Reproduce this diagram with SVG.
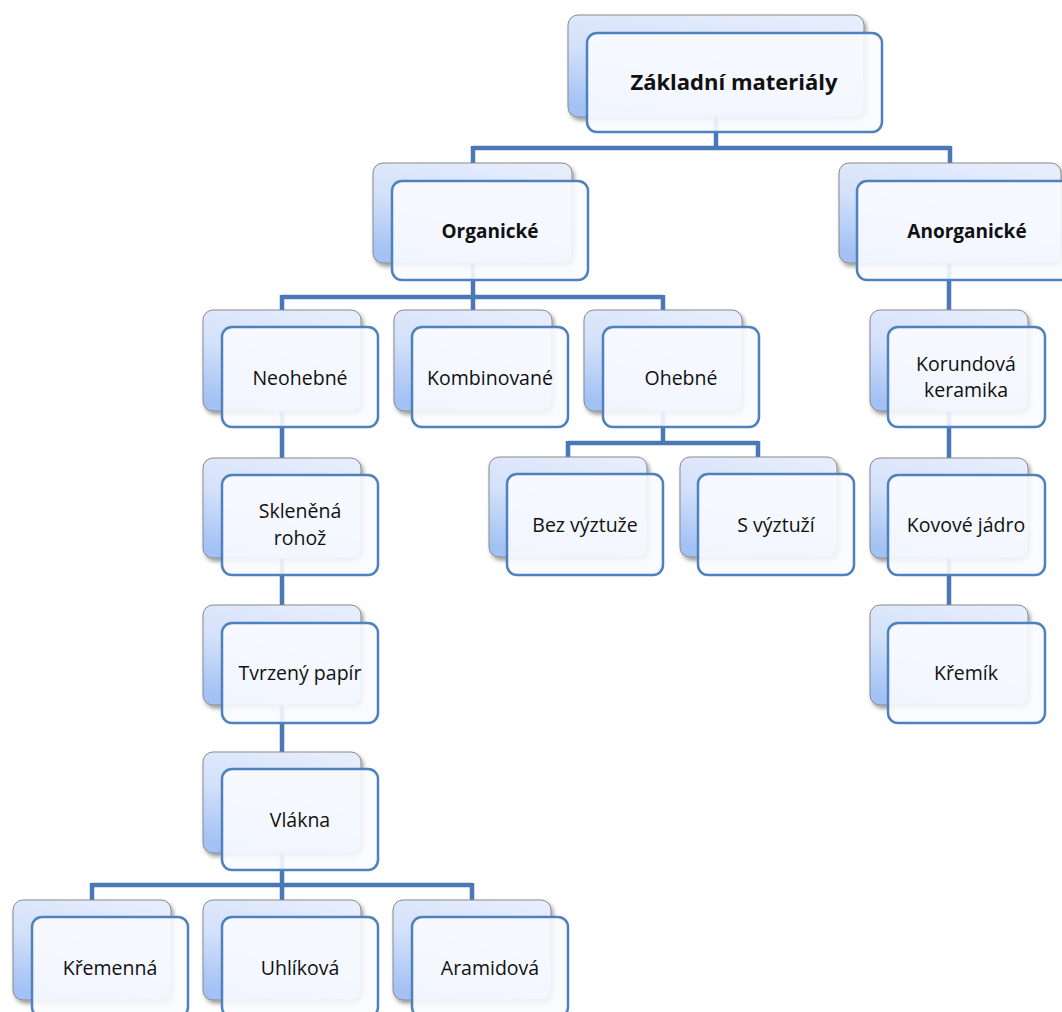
<svg xmlns="http://www.w3.org/2000/svg" width="1062" height="1012" viewBox="0 0 1062 1012">
<defs>
<linearGradient id="bg" x1="0.7" y1="0" x2="0.3" y2="1">
<stop offset="0" stop-color="#e6edfc"/>
<stop offset="0.5" stop-color="#d3e1fa"/>
<stop offset="1" stop-color="#a3c1f4"/>
</linearGradient>
<filter id="sh" x="-10%" y="-10%" width="125%" height="130%">
<feDropShadow dx="2" dy="3" stdDeviation="2" flood-color="#000" flood-opacity="0.4"/>
</filter>
</defs>
<style>
.bk{fill:url(#bg);stroke:#8a8a8a;stroke-width:1;filter:url(#sh)}
.fr{fill:#fafbff;fill-opacity:0.9;stroke:#4f81bd;stroke-width:2.5}
.c{fill:none;stroke:#4a78b4;stroke-width:4.5}
text{font-family:"Open Sans","Liberation Sans",sans-serif;font-size:19.5px;fill:#111;text-anchor:middle}
.b{font-weight:bold;font-size:19px}
</style>
<rect width="1062" height="1012" fill="#fff"/>
<g id="connectors">
<path class="c" d="M716 117V148M473 148H950M473 146V163M950 146V163"/>
<path class="c" d="M473 263V297M282 297H663M282 295V310M473 295V310M663 295V310"/>
<path class="c" d="M282 411V752"/>
<path class="c" d="M282 853V885M92 885H472M92 883V900M282 883V900M472 883V900"/>
<path class="c" d="M663 411V443M568 443H758M568 441V457M758 441V457"/>
<path class="c" d="M949 263V605"/>
</g>
<g id="n-zakladni"><rect class="bk" x="568" y="15" width="296" height="102" rx="10"/><rect class="fr" x="587" y="33" width="295" height="99" rx="10"/><text class="b" x="734" y="90" style="font-size:22px">Základní materiály</text></g>
<g id="n-organicke"><rect class="bk" x="373" y="163" width="199" height="100" rx="10"/><rect class="fr" x="392" y="181" width="196" height="99" rx="10"/><text class="b" x="490" y="238">Organické</text></g>
<g id="n-anorganicke"><rect class="bk" x="839" y="163" width="222" height="100" rx="10"/><rect class="fr" x="857" y="181" width="222" height="99" rx="10"/><text class="b" x="967" y="238">Anorganické</text></g>
<g id="n-neohebne"><rect class="bk" x="203" y="310" width="158" height="101" rx="10"/><rect class="fr" x="222" y="327" width="156" height="100" rx="10"/><text x="300" y="385">Neohebné</text></g>
<g id="n-kombinovane"><rect class="bk" x="394" y="310" width="158" height="101" rx="10"/><rect class="fr" x="412" y="327" width="156" height="100" rx="10"/><text x="490" y="385">Kombinované</text></g>
<g id="n-ohebne"><rect class="bk" x="584" y="310" width="158" height="101" rx="10"/><rect class="fr" x="603" y="327" width="156" height="100" rx="10"/><text x="681" y="385">Ohebné</text></g>
<g id="n-korundova"><rect class="bk" x="870" y="310" width="158" height="101" rx="10"/><rect class="fr" x="888" y="327" width="157" height="100" rx="10"/><text x="966" y="371">Korundová</text><text x="966" y="397">keramika</text></g>
<g id="n-sklenena"><rect class="bk" x="203" y="458" width="158" height="100" rx="10"/><rect class="fr" x="222" y="475" width="156" height="100" rx="10"/><text x="300" y="518">Skleněná</text><text x="300" y="545">rohož</text></g>
<g id="n-bez"><rect class="bk" x="489" y="457" width="158" height="100" rx="10"/><rect class="fr" x="507" y="474" width="156" height="101" rx="10"/><text x="585" y="532">Bez výztuže</text></g>
<g id="n-s"><rect class="bk" x="680" y="457" width="157" height="100" rx="10"/><rect class="fr" x="698" y="474" width="156" height="101" rx="10"/><text x="776" y="532">S výztuží</text></g>
<g id="n-kovove"><rect class="bk" x="870" y="458" width="158" height="100" rx="10"/><rect class="fr" x="888" y="475" width="157" height="100" rx="10"/><text x="966" y="532">Kovové jádro</text></g>
<g id="n-tvrzeny"><rect class="bk" x="203" y="605" width="158" height="100" rx="10"/><rect class="fr" x="222" y="623" width="156" height="100" rx="10"/><text x="300" y="680">Tvrzený papír</text></g>
<g id="n-kremik"><rect class="bk" x="870" y="605" width="158" height="100" rx="10"/><rect class="fr" x="888" y="623" width="157" height="100" rx="10"/><text x="966" y="680">Křemík</text></g>
<g id="n-vlakna"><rect class="bk" x="203" y="752" width="158" height="101" rx="10"/><rect class="fr" x="222" y="769" width="156" height="101" rx="10"/><text x="300" y="827">Vlákna</text></g>
<g id="n-kremenna"><rect class="bk" x="13" y="900" width="158" height="100" rx="10"/><rect class="fr" x="32" y="917" width="156" height="100" rx="10"/><text x="110" y="975">Křemenná</text></g>
<g id="n-uhlikova"><rect class="bk" x="203" y="900" width="158" height="100" rx="10"/><rect class="fr" x="222" y="917" width="156" height="100" rx="10"/><text x="300" y="975">Uhlíková</text></g>
<g id="n-aramidova"><rect class="bk" x="393" y="900" width="158" height="100" rx="10"/><rect class="fr" x="412" y="917" width="156" height="100" rx="10"/><text x="490" y="975">Aramidová</text></g>
</svg>
